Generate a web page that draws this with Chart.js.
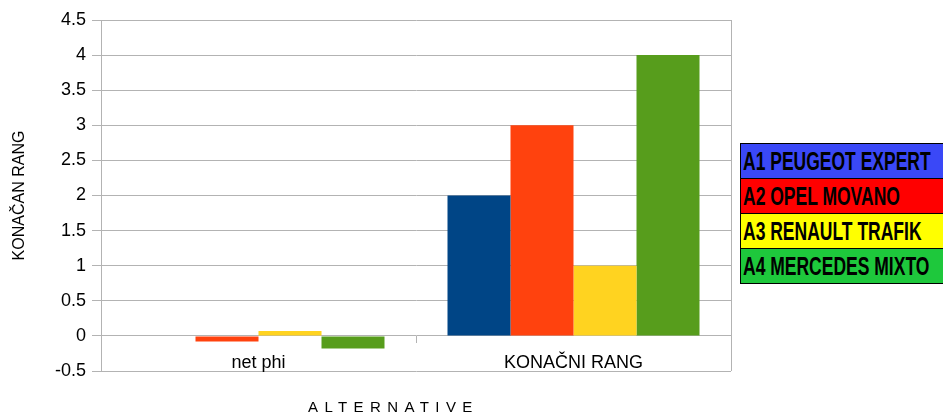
<!DOCTYPE html>
<html>
<head>
<meta charset="utf-8">
<script src="https://cdn.jsdelivr.net/npm/chart.js@4"></script>
<style>
  html, body { margin: 0; padding: 0; background: #fff; }
  #wrap { position: relative; width: 943px; height: 415px; overflow: hidden; }
  #chart { position: absolute; left: 0; top: 0; }
  #legend { position: absolute; left: 740px; top: 143px; width: 215px; border: 1px solid #000; }
  .entry { height: 34px; line-height: 34px; border-top: 1px solid #000; padding-left: 2px;
    font-family: "Liberation Sans", Arial, sans-serif; font-weight: bold;
    font-size: 25px; color: #000; white-space: nowrap; }
  .entry span { display: inline-block; transform: scaleX(0.7); transform-origin: left center; }
  .entry:first-child { border-top: none; }
  #xtitle { position: absolute; top: 398px; left: 308px; white-space: nowrap;
    font-family: "Liberation Sans", Arial, sans-serif; font-size: 15px; letter-spacing: 6.4px; color: #000; }
</style>
</head>
<body>
<div id="wrap">
  <canvas id="chart" width="943" height="415"></canvas>
  <div id="legend"></div>
  <div id="xtitle">ALTERNATIVE</div>
</div>
<script>
const categories = ['net phi', 'KONAČNI RANG'];
const seriesNames = ['A1 PEUGEOT EXPERT', 'A2 OPEL MOVANO', 'A3 RENAULT TRAFIK', 'A4 MERCEDES MIXTO'];
const a1 = [0, 2];
const a2 = [-0.08, 3];
const a3 = [0.07, 1];
const a4 = [-0.18, 4];
const barColors = ['#004586', '#ff420e', '#ffd320', '#579d1c'];
const legendColors = ['#3a48f7', '#ff0000', '#ffff00', '#1ec83c'];
const yTicks = [-0.5, 0, 0.5, 1, 1.5, 2, 2.5, 3, 3.5, 4, 4.5];

const gridColor = '#b3b3b3';

// html legend, the boxes are filled with colour
document.getElementById('legend').innerHTML = seriesNames.map((n, i) =>
  `<div class="entry" style="background:${legendColors[i]}"><span>${n}</span></div>`).join('');

// right frame line of the plot area
const frame = {
  id: 'frame',
  afterDraw(chart) {
    const { ctx, chartArea } = chart;
    ctx.save();
    ctx.strokeStyle = gridColor;
    ctx.lineWidth = 1;
    ctx.beginPath();
    ctx.moveTo(Math.round(chartArea.right) + 0.5, chartArea.top);
    ctx.lineTo(Math.round(chartArea.right) + 0.5, chartArea.bottom);
    ctx.stroke();
    ctx.restore();
  }
};

const values = [a1, a2, a3, a4];

new Chart(document.getElementById('chart'), {
  type: 'bar',
  data: {
    labels: categories,
    datasets: seriesNames.map((n, i) => ({
      label: n,
      data: values[i],
      backgroundColor: barColors[i],
      borderWidth: 0,
      categoryPercentage: 0.8,
      barPercentage: 1.0
    }))
  },
  options: {
    responsive: false,
    animation: false,
    layout: { padding: { left: 0, right: 212, top: 20, bottom: 44 } },
    plugins: {
      legend: { display: false },
      tooltip: { enabled: false }
    },
    scales: {
      x: {
        position: { y: 0 },
        grid: { display: true, drawOnChartArea: false, drawTicks: true, tickLength: 7, color: gridColor },
        border: { display: false },
        ticks: { color: '#000', padding: 9, font: { family: 'Liberation Sans', size: 18 } }
      },
      y: {
        min: -0.5,
        max: 4.5,
        afterFit(scale) { scale.width = 101; },
        afterBuildTicks(scale) { scale.ticks = yTicks.map(v => ({ value: v })); },
        grid: { color: gridColor, tickLength: 9 },
        border: { color: gridColor },
        ticks: { color: '#000', padding: 6, font: { family: 'Liberation Sans', size: 18 },
          callback: v => String(v) },
        title: {
          display: true,
          text: 'KONAČAN RANG',
          color: '#000',
          padding: { top: 10, bottom: 0 },
          font: { family: 'Liberation Sans', size: 16 }
        }
      }
    }
  },
  plugins: [frame]
});
</script>
</body>
</html>
